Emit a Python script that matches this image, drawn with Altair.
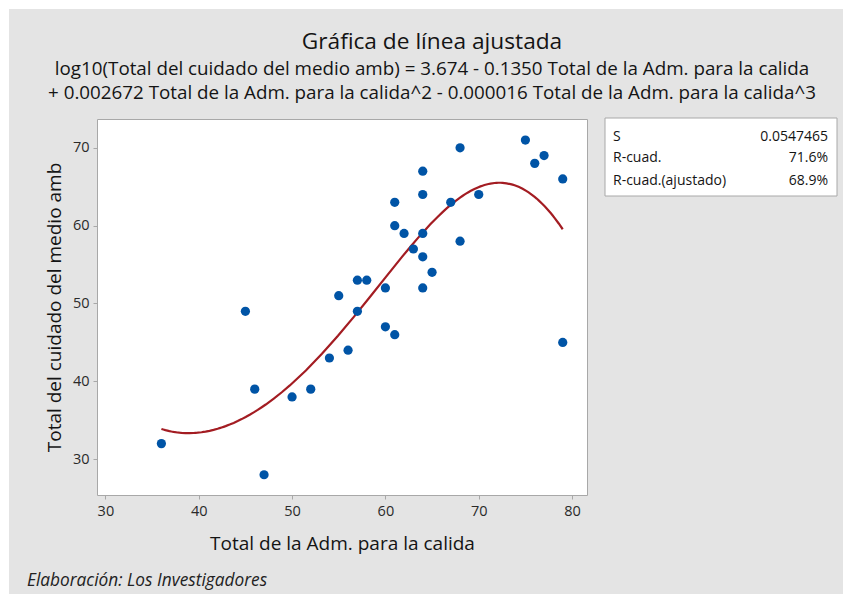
import altair as alt
import pandas as pd

# Observations
adm = [36, 45, 46, 47, 50, 52, 54, 55, 56, 57, 58, 57, 60, 60, 61, 61, 61, 62, 63,
       64, 64, 64, 64, 64, 65, 67, 68, 68, 70, 75, 76, 77, 79, 79]
cuidado = [32, 49, 39, 28, 38, 39, 43, 51, 44, 53, 53, 49, 52, 47, 46, 63, 60, 59, 57,
           67, 64, 59, 56, 52, 54, 63, 70, 58, 64, 71, 68, 69, 66, 45]

# Text
titulo = "Gráfica de línea ajustada"
ecuacion = [
    "log10(Total del cuidado del medio amb) = 3.674 - 0.1350 Total de la Adm. para la calida",
    "+ 0.002672 Total de la Adm. para la calida^2 - 0.000016 Total de la Adm. para la calida^3",
]
x_title = "Total de la Adm. para la calida"
y_title = "Total del cuidado del medio amb"
fuente = "Elaboración: Los Investigadores"
stat_labels = ["S", "R-cuad.", "R-cuad.(ajustado)"]
stat_values = ["0.0547465", "71.6%", "68.9%"]
x_ticks = [30, 40, 50, 60, 70, 80]
y_ticks = [30, 40, 50, 60, 70]

FONT = "Open Sans"
W, H = 490, 376
PAD_L, PAD_T, PAD_R, PAD_B = 97, 119, 256, 99
GREY = "#e4e4e4"
TXT = "#141414"

df = pd.DataFrame({"adm": adm, "cuidado": cuidado})

xs = alt.Scale(domain=[29.1, 81.6], nice=False, zero=False)
ys = alt.Scale(domain=[25.4, 73.7], nice=False, zero=False)

x_enc = alt.X("adm:Q", scale=xs, title=x_title,
              axis=alt.Axis(values=x_ticks, format="d"))
y_enc = alt.Y("cuidado:Q", scale=ys, title=y_title,
              axis=alt.Axis(values=y_ticks, format="d"))

base = alt.Chart(df)

points = base.mark_circle(size=85, color="#0054a6", opacity=1).encode(
    x=x_enc, y=y_enc
)

# Cubic fit on log10 scale, back-transformed
fit = base.transform_calculate(
    ly="log(datum.cuidado) / LN10"
).transform_regression(
    "adm", "ly", method="poly", order=3
).transform_calculate(
    cuidado="pow(10, datum.ly)"
).mark_line(color="#a31c22", strokeWidth=2.2).encode(
    x=alt.X("adm:Q", scale=xs), y=alt.Y("cuidado:Q", scale=ys)
)

layers = [fit, points]


def label(text, px, py, **style):
    """One text mark, drawn once, at a pixel position on the page."""
    src = alt.Chart(pd.DataFrame({"t": [text]}))
    props = dict(font=FONT, color=TXT, baseline="middle")
    props.update(style)
    return src.mark_text(**props).encode(
        text="t:N", x=alt.value(px - PAD_L), y=alt.value(py - PAD_T))


# Thin white strips along the top and left edges of the page
strip = alt.Chart(pd.DataFrame({"k": [0]}))
layers.append(strip.mark_rect(color="white").encode(
    x=alt.value(-PAD_L), x2=alt.value(W + PAD_R),
    y=alt.value(-PAD_T), y2=alt.value(9 - PAD_T)))
layers.append(strip.mark_rect(color="white").encode(
    x=alt.value(-PAD_L), x2=alt.value(9 - PAD_L),
    y=alt.value(-PAD_T), y2=alt.value(H + PAD_B)))

# Title and equation
layers.append(label(titulo, 432, 42, fontSize=22.7, align="center"))
for i, line in enumerate(ecuacion):
    layers.append(label(line, 432, 69 + 24 * i, fontSize=18.8, align="center"))

# Statistics box
layers.append(strip.mark_rect(color="white", stroke="#a8a8a8", strokeWidth=1).encode(
    x=alt.value(605 - PAD_L), x2=alt.value(837 - PAD_L),
    y=alt.value(118 - PAD_T), y2=alt.value(196 - PAD_T)))
row_y = [137, 158, 181]
for lab, val, yy in zip(stat_labels, stat_values, row_y):
    layers.append(label(lab, 613, yy, fontSize=14, align="left"))
    layers.append(label(val, 828, yy, fontSize=14, align="right"))

# Source note
layers.append(label(fuente, 27, 581, fontSize=17.3, fontStyle="italic",
                    color="#222222", align="left"))

chart = alt.layer(*layers).properties(
    width=W, height=H,
    autosize=alt.AutoSizeParams(type="none"),
    padding={"left": PAD_L, "top": PAD_T, "right": PAD_R, "bottom": PAD_B},
    background=GREY,
).configure_view(
    fill="white", stroke="#a8a8a8", strokeWidth=1
).configure_axis(
    grid=False, domain=False,
    tickColor="#a8a8a8", tickSize=4,
    labelFont=FONT, labelFontSize=14.5, labelColor="#2a2a2a",
    titleFont=FONT, titleFontSize=19, titleColor=TXT, titleFontWeight="normal",
).configure_axisX(
    labelPadding=5, titlePadding=17,
).configure_axisY(
    labelPadding=4, titlePadding=8,
)

chart.save("out.html", embed_options={"renderer": "svg", "actions": False})
